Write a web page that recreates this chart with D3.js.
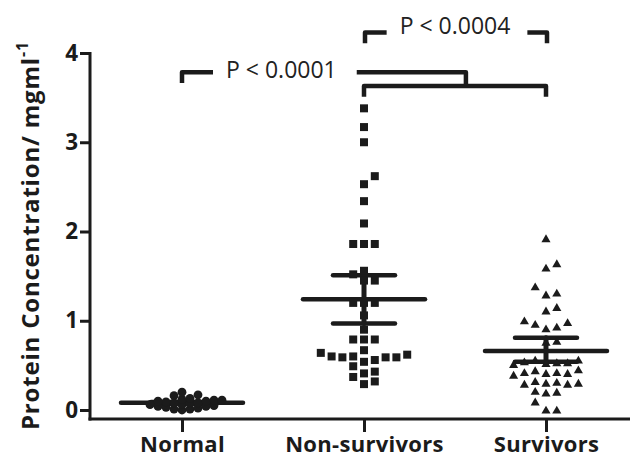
<!DOCTYPE html>
<html>
<head>
<meta charset="utf-8">
<script src="https://cdn.jsdelivr.net/npm/d3@7/dist/d3.min.js"></script>
<style>
  html, body { margin: 0; padding: 0; background: #fff; }
  svg { display: block; }
</style>
</head>
<body>
<svg id="chart" width="630" height="459"></svg>
<script>
// ---------------- data ----------------
const categories = ["Normal", "Non-survivors", "Survivors"];
const normalValues = [0.20, 0.17, 0.16, 0.13, 0.12, 0.11, 0.11, 0.10, 0.10, 0.09, 0.08, 0.08,
  0.07, 0.06, 0.06, 0.05, 0.04, 0.04, 0.03, 0.02, 0.01, 0.01, 0.00];
const nonSurvivorValues = [3.38, 3.17, 3.00, 2.62, 2.53, 2.34, 2.09, 1.86, 1.86, 1.86,
  1.56, 1.52, 1.45, 1.45, 1.20, 1.20, 1.20, 1.06, 0.90, 0.79, 0.79, 0.79,
  0.67, 0.62, 0.59, 0.59, 0.56, 0.59, 0.54, 0.60, 0.60, 0.64,
  0.49, 0.43, 0.37, 0.29, 0.32, 0.41];
const survivorValues = [1.91, 1.63, 1.58, 1.37, 1.30, 1.28, 1.14, 1.10,
  0.99, 0.97, 0.95, 0.92, 0.90, 0.76, 0.75,
  0.55, 0.53, 0.52, 0.52, 0.51, 0.50, 0.55,
  0.43, 0.40, 0.41, 0.40, 0.41, 0.38, 0.44,
  0.30, 0.28, 0.29, 0.28, 0.29, 0.31,
  0.19, 0.18, 0.20, 0.08, -0.01, -0.01];
const groupMeans = [0.08, 1.24, 0.66];
const ciLower = [0.07, 0.97, 0.54];
const ciUpper = [0.09, 1.51, 0.81];
const yTickValues = [0, 1, 2, 3, 4];
const yLabel = "Protein Concentration/ mgml";
const yLabelSup = "-1";
const comparisonLabels = ["P < 0.0001", "P < 0.0004"];
const comparisonLevels = [3.785, 4.23];     // data level of bracket bars
const innerBracketLevel = 3.63;

// ---------------- layout ----------------
const svg = d3.select("#chart");
const ink = "#1b1b1b";
const x = d3.scalePoint().domain(categories).range([182, 546]);
const y = d3.scaleLinear().domain([0, 4]).range([410, 53]);
const xAxisY = 419, yAxisX = 90;
const boldFont = (sel, size) => sel.attr("fill", ink)
  .style("font-family", "'Open Sans', sans-serif").style("font-weight", "bold").style("font-size", size + "px");

// axes lines
svg.append("line").attr("x1", yAxisX).attr("x2", yAxisX)
  .attr("y1", y(4) - 1).attr("y2", xAxisY + 1.5)
  .attr("stroke", ink).attr("stroke-width", 3);
svg.append("line").attr("x1", yAxisX - 1.5).attr("x2", 632)
  .attr("y1", xAxisY).attr("y2", xAxisY)
  .attr("stroke", ink).attr("stroke-width", 3);

const yAxis = svg.append("g").attr("transform", `translate(${yAxisX},0)`)
  .call(d3.axisLeft(y).tickValues(yTickValues).tickSize(10).tickPadding(2).tickFormat(d3.format("d")));
yAxis.select(".domain").remove();
yAxis.selectAll("line").attr("stroke", ink).attr("stroke-width", 3);
yAxis.selectAll("text").call(boldFont, 22.5);

const xAxis = svg.append("g").attr("transform", `translate(0,${xAxisY})`)
  .call(d3.axisBottom(x).tickSize(13).tickPadding(4));
xAxis.select(".domain").remove();
xAxis.selectAll("line").attr("stroke", ink).attr("stroke-width", 3);
xAxis.selectAll("text").call(boldFont, 22).style("letter-spacing", "0.3px");

// y label
const yl = svg.append("text")
  .attr("transform", `translate(39,${y(0) + 20}) rotate(-90)`)
  .attr("text-anchor", "start").call(boldFont, 24).style("letter-spacing", "0.8px");
yl.append("tspan").text(yLabel);
yl.append("tspan").attr("dy", -11).style("font-size", "16px").text(yLabelSup);

// ---------------- swarm ----------------
const colStep = 10.8;
function swarm(values, thresh) {
  const placed = [];
  const order = values.map((v, i) => ({ v, i })).sort((a, b) => a.v - b.v);
  order.forEach(o => {
    const py = y(o.v);
    for (let n = 0; n < 50; n++) {
      const k = n === 0 ? 0 : (n % 2 === 1 ? (n + 1) / 2 : -n / 2);
      if (!placed.some(p => p.k === k && Math.abs(p.py - py) < thresh)) {
        placed.push({ v: o.v, k, py });
        break;
      }
    }
  });
  return placed;
}

// error bars (mean + CI)
categories.forEach((c, i) => {
  const cx = x(c);
  const g = svg.append("g").attr("stroke", ink).attr("stroke-linecap", "round");
  g.append("line").attr("x1", cx).attr("x2", cx).attr("y1", y(ciUpper[i])).attr("y2", y(ciLower[i])).attr("stroke-width", 5);
  g.append("line").attr("x1", cx - 61).attr("x2", cx + 61).attr("y1", y(groupMeans[i])).attr("y2", y(groupMeans[i])).attr("stroke-width", 4.5);
  [ciUpper[i], ciLower[i]].forEach(v => {
    g.append("line").attr("x1", cx - 31).attr("x2", cx + 31).attr("y1", y(v)).attr("y2", y(v)).attr("stroke-width", 4.5);
  });
});

// points
const nPts = swarm(normalValues, 5);
svg.append("g").selectAll("circle").data(nPts).join("circle")
  .attr("cx", d => x(categories[0]) + d.k * 8).attr("cy", d => d.py).attr("r", 4.4).attr("fill", ink);

const nsPts = swarm(nonSurvivorValues, 9);
svg.append("g").selectAll("rect").data(nsPts).join("rect")
  .attr("x", d => x(categories[1]) + d.k * colStep - 4).attr("y", d => d.py - 4)
  .attr("width", 8).attr("height", 8).attr("fill", ink);

const sPts = swarm(survivorValues, 9);
const tri = d3.symbol().type(d3.symbolTriangle).size(36);
svg.append("g").selectAll("path").data(sPts).join("path")
  .attr("d", tri)
  .attr("transform", d => `translate(${x(categories[2]) + d.k * colStep},${d.py})`)
  .attr("fill", ink);

// ---------------- comparison brackets ----------------
const bw = 4.5;
const bracketG = svg.append("g").attr("fill", "none").attr("stroke", ink)
  .attr("stroke-width", bw).attr("stroke-linejoin", "round").attr("stroke-linecap", "butt");
const drop = y(0) - y(0.12);
const pFont = g => g.attr("fill", "#222").style("font-family", "'Open Sans', sans-serif").style("font-size", "23px");

// inner bracket Non-survivors vs Survivors
const xa = x(categories[1]), xb = x(categories[2]);
const yi = y(innerBracketLevel);
bracketG.append("path").attr("d", `M${xa},${yi + drop} V${yi} H${xb} V${yi + drop}`);

// Normal vs (Non-survivors + Survivors)
const y1 = y(comparisonLevels[0]);
const x0 = x(categories[0]);
const xm = xa + 0.56 * (xb - xa);
const t1x = x0 + 0.35 * (xm - x0);
const t1 = svg.append("text").attr("x", t1x).attr("y", y1 + 6).attr("text-anchor", "middle").text(comparisonLabels[0]).call(pFont);
const w1 = t1.node().getComputedTextLength();
bracketG.append("path").attr("d", `M${x0},${y1 + drop} V${y1} H${t1x - w1 / 2 - 13}`);
bracketG.append("path").attr("d", `M${t1x + w1 / 2 + 20},${y1} H${xm} V${yi}`);

// Non-survivors vs Survivors (top)
const y2 = y(comparisonLevels[1]);
const t2x = (xa + xb) / 2;
const t2 = svg.append("text").attr("x", t2x).attr("y", y2 + 2).attr("text-anchor", "middle").text(comparisonLabels[1]).call(pFont);
const w2 = t2.node().getComputedTextLength();
bracketG.append("path").attr("d", `M${xa + 1},${y2 + drop} V${y2} H${t2x - w2 / 2 - 13}`);
bracketG.append("path").attr("d", `M${t2x + w2 / 2 + 17},${y2} H${xb + 1} V${y2 + drop}`);
</script>
</body>
</html>
